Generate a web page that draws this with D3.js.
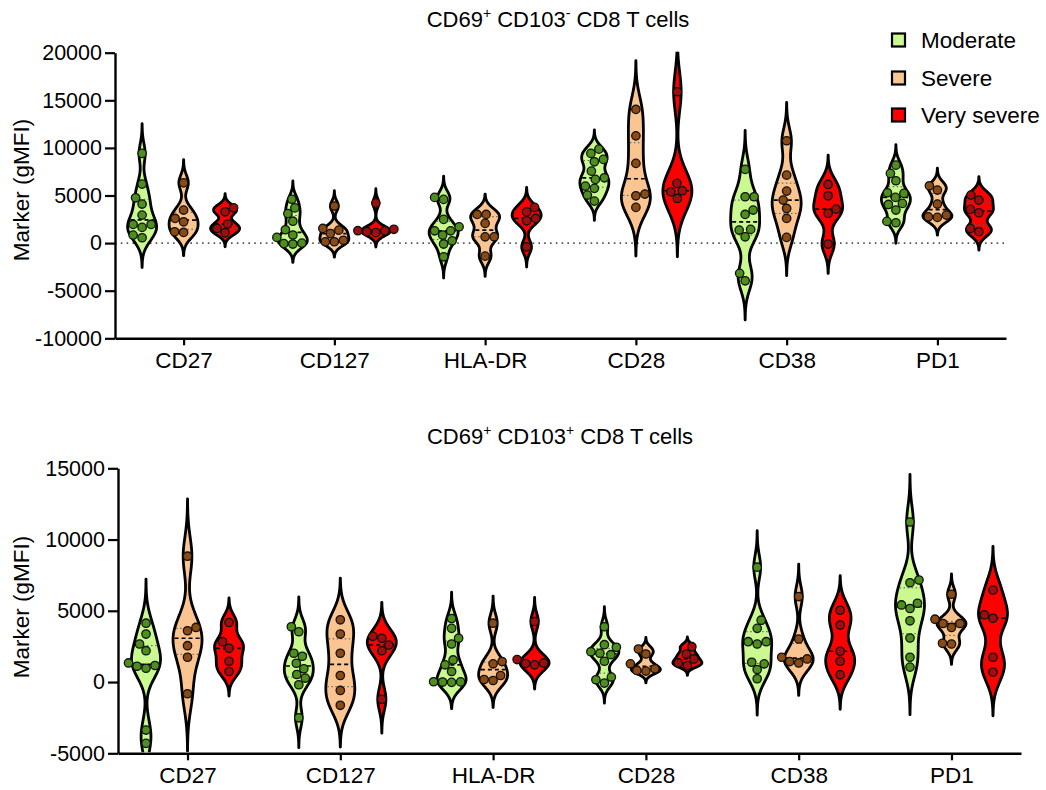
<!DOCTYPE html>
<html><head><meta charset="utf-8">
<script src="https://cdn.jsdelivr.net/npm/d3@7"></script>
<style>
body{margin:0;background:#fff}
text{font-family:"Liberation Sans",Arial,Helvetica,sans-serif;fill:#000}
</style>
</head><body><script>
// ---------------- DATA ----------------
const markers = ["CD27","CD127","HLA-DR","CD28","CD38","PD1"];
const groups = ["Moderate","Severe","Very severe"];
const topTicks = [-10000,-5000,0,5000,10000,15000,20000];
const bottomTicks = [-5000,0,5000,10000,15000];
const topTitle = ["CD69","+"," CD103","-"," CD8 T cells"];
const bottomTitle = ["CD69","+"," CD103","+"," CD8 T cells"];
const yLabel = "Marker (gMFI)";

// CD69+ CD103- CD8 T cells (per marker, values in gMFI)
const topModerate = [
  [9420,6200,4760,4100,2940,1960,1960,1650,840,560],
  [4600,3700,3100,2300,1400,850,600,0,-100,-50],
  [4800,4590,2490,1710,1290,1290,840,240,-100,-1440],
  [9870,9420,8790,8540,7560,6860,6690,5990,5750,5040,4410],
  [7740,4870,4870,3470,3010,1440,1370,660,-3180,-3960],
  [8190,7320,6550,5290,5220,4800,4170,4060,3470,2280,2140]
];
const topSevere = [
  [6330,3470,2590,2240,1190,1120],
  [3890,1540,1360,1000,300,140,140],
  [3010,3010,2070,660,660,-1370],
  [14040,11270,8370,5150,4970,3750],
  [10750,7140,5460,4520,3640,2590,600],
  [6020,5570,4100,2940,2760,2700]
];
const topVerySevere = [
  [3710,3290,2000,1540,1090],
  [4200,1450,1300,1300,1200,1100],
  [3750,3290,2590,2340,-400],
  [15900,6270,5500,5390,4690],
  [6160,4970,3570,3120,-100],
  [5040,4520,3540,3180,1540,1200]
];
// CD69+ CD103+ CD8 T cells
const bottomModerate = [
  [4130,3370,2670,2200,1340,1160,1110,970,-3370,-4300],
  [3880,3530,2020,1810,1320,930,530,280,-190,-2510],
  [4460,3770,3070,2670,1550,1210,740,20,10,0,-20],
  [3880,2620,2440,2130,2020,1920,1460,350,160,-70],
  [8060,4340,3770,2830,2830,2670,1390,1280,880,230],
  [11230,7160,6970,5530,5410,5160,4300,3090,1740,1050]
];
const bottomSevere = [
  [8830,3830,3600,2550,1740,-820],
  [4370,3370,2020,460,-590,-1630],
  [4130,1440,1280,460,180,110],
  [2320,1970,1280,930,810,770],
  [6000,3020,1740,1620,1440,1340],
  [6160,4410,4110,4110,3830,2720,2670]
];
const bottomVerySevere = [
  [4180,2830,2370,1460,740],
  [3210,3070,2600,2200,-1210],
  [4250,1580,1340,1300,1210],
  [2480,1970,1620,1340,1160],
  [5040,4000,2160,1460,510],
  [6460,4710,4480,1740,700]
];

// ---------------- STYLE ----------------
const fills = ["#c9f98f","#fbc591","#ff0000"];
const dotFills = ["#4c8f1d","#8b4a14","#a00d0d"];

const W = 1046, H = 790;
const svg = d3.select("body").append("svg").attr("width", W).attr("height", H);

function drawTitle(parts, cx, cy) {
  const t = svg.append("text").attr("x", cx).attr("y", cy)
    .attr("text-anchor", "middle").attr("font-size", 22);
  parts.forEach((s, i) => {
    const sup = i % 2 === 1;
    const ts = t.append("tspan").text(s);
    if (sup) ts.attr("font-size", 14).attr("dy", -9);
    else if (i > 0) ts.attr("dy", 9);
  });
}

function drawPanel(p) {
  const g = svg.append("g");
  const x = d3.scalePoint().domain(markers).range([p.x0, p.x1]).padding(0.455);
  const gx = d3.scalePoint().domain(groups).range([-41.5, 41.5]);
  const y = d3.scaleLinear().domain([p.ticks[0], p.ticks[p.ticks.length - 1]]).range([p.yb, p.yt]);

  g.append("clipPath").attr("id", p.id).append("rect")
    .attr("x", p.x0 + 1).attr("y", p.yt - 1).attr("width", p.x1 - p.x0).attr("height", p.yb - p.yt);

  if (p.zeroLine) {
    g.append("line").attr("x1", p.x0).attr("x2", p.x1).attr("y1", y(0)).attr("y2", y(0))
      .attr("stroke", "#555").attr("stroke-width", 1.6).attr("stroke-dasharray", "1.6,4.2");
  }

  const yAxis = d3.axisLeft(y).tickValues(p.ticks).tickSize(10).tickSizeOuter(0).tickPadding(3)
    .tickFormat(d => String(d));
  const ya = g.append("g").attr("transform", `translate(${p.x0},0)`).call(yAxis);
  ya.select(".domain").attr("stroke-width", 2.4);
  ya.selectAll(".tick line").attr("stroke-width", 2.2);
  ya.selectAll("text").attr("font-size", 21.5).attr("font-family", null).attr("fill", "#000");

  const xAxis = d3.axisBottom(x).tickSize(7).tickSizeOuter(0).tickPadding(7);
  const xa = g.append("g").attr("transform", `translate(0,${p.yb})`).call(xAxis);
  xa.select(".domain").attr("stroke-width", 2.4);
  xa.selectAll(".tick line").attr("stroke-width", 2.2);
  xa.selectAll("text").attr("font-size", 22.5).attr("font-family", null).attr("fill", "#000");

  g.append("text").attr("transform", `translate(29,${p.labelY}) rotate(-90)`)
    .attr("text-anchor", "middle").attr("font-size", 22.5).text(yLabel);

  const vg = g.append("g").attr("clip-path", `url(#${p.id})`);
  const dg = g.append("g");

  p.data.forEach((series, gi) => {
    series.forEach((vals, mi) => {
      const cx = x(markers[mi]) + gx(groups[gi]);
      const sorted = vals.slice().sort(d3.ascending);
      const n = vals.length;
      const sd = d3.deviation(vals);
      const h = 0.6 * sd * Math.pow(n, -0.2);
      const lo = sorted[0] - 3 * h, hi = sorted[n - 1] + 3 * h;
      const N = 200;
      const dens = t => d3.sum(vals, v => Math.exp(-0.5 * ((t - v) / h) ** 2));
      const grid = d3.range(N + 1).map(i => lo + (hi - lo) * i / N);
      const ds = grid.map(t => [t, dens(t)]);
      const mx = d3.max(ds, d => d[1]);
      const wS = d3.scaleLinear().domain([0, mx]).range([0, 14.5]);
      const area = d3.area().y(d => y(d[0])).x0(d => cx - wS(d[1])).x1(d => cx + wS(d[1]))
        .curve(d3.curveBasis);
      vg.append("path").attr("d", area(ds)).attr("fill", fills[gi])
        .attr("stroke", "#000").attr("stroke-width", 2.8).attr("stroke-linejoin", "round");

      // quartiles & median
      const q1 = d3.quantile(sorted, 0.25), q3 = d3.quantile(sorted, 0.75), med = d3.median(sorted);
      [q1, q3].forEach(q => {
        const w = wS(dens(q));
        vg.append("line").attr("x1", cx - w + 1.5).attr("x2", cx + w - 1.5).attr("y1", y(q)).attr("y2", y(q))
          .attr("stroke", "#555").attr("stroke-width", 1).attr("stroke-dasharray", "1.5,2.5");
      });
      const wm = wS(dens(med));
      vg.append("line").attr("x1", cx - wm + 1.5).attr("x2", cx + wm - 1.5).attr("y1", y(med)).attr("y2", y(med))
        .attr("stroke", "#000").attr("stroke-width", 1.7).attr("stroke-dasharray", "4,3");

      // beeswarm points
      const D = 9;
      const placed = [];
      sorted.forEach((v, k) => {
        const py = y(v);
        let off = 0;
        for (let s = 0; s <= 40; s += 0.5) {
          const cands = (k % 2 === 0) ? [s, -s] : [-s, s];
          let found = null;
          for (const c of cands) {
            if (placed.every(pp => (pp[0] - c) ** 2 + (pp[1] - py) ** 2 >= D * D)) { found = c; break; }
          }
          if (found !== null) { off = found; break; }
        }
        placed.push([off, py]);
        dg.append("circle").attr("cx", cx + off).attr("cy", py).attr("r", 4.2)
          .attr("fill", dotFills[gi]).attr("stroke", "#111").attr("stroke-width", 1.3);
      });
    });
  });
}

drawTitle(topTitle, 558, 27);
drawTitle(bottomTitle, 560, 444);

drawPanel({ id: "clipTop", x0: 115, x1: 1006, yb: 338.3, yt: 52.7, ticks: topTicks, zeroLine: true,
  labelY: 190, data: [topModerate, topSevere, topVerySevere] });
drawPanel({ id: "clipBottom", x0: 118, x1: 1021, yb: 753.3, yt: 468.3, ticks: bottomTicks, zeroLine: false,
  labelY: 607, data: [bottomModerate, bottomSevere, bottomVerySevere] });

// legend
const legY = [40, 78, 115];
groups.forEach((gname, i) => {
  svg.append("rect").attr("x", 892).attr("y", legY[i] - 6.5).attr("width", 13).attr("height", 13)
    .attr("fill", fills[i]).attr("stroke", "#000").attr("stroke-width", 2.2);
  svg.append("text").attr("x", 921).attr("y", legY[i] + 8).attr("font-size", 22.5).text(gname);
});
</script></body></html>
